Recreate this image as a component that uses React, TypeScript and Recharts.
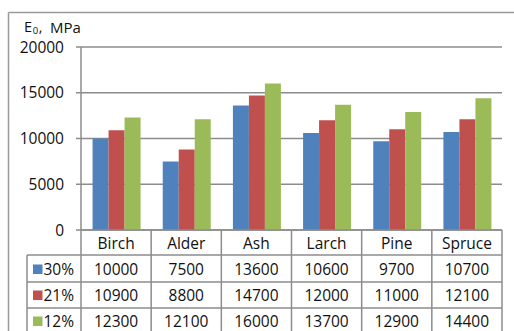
import React from "react";
import { BarChart, Bar, XAxis, YAxis, CartesianGrid, Customized } from "recharts";

const categories = ["Birch", "Alder", "Ash", "Larch", "Pine", "Spruce"];
const series30 = [10000, 7500, 13600, 10600, 9700, 10700];
const series21 = [10900, 8800, 14700, 12000, 11000, 12100];
const series12 = [12300, 12100, 16000, 13700, 12900, 14400];
const seriesNames = ["30%", "21%", "12%"];
const yTicks = [0, 5000, 10000, 15000, 20000];

const COLORS = ["#4F81BD", "#C0504D", "#9BBB59"];
const GRID = "#8c8c8c";
const FONT = "'Open Sans', sans-serif";
const FS = 15.5;

const W = 514;
const H = 331;
const MARGIN = { top: 47, right: 12, left: 0, bottom: 0 };
const Y_W = 81;
const X_H = 101;
const BAND = (W - MARGIN.left - MARGIN.right - Y_W) / categories.length;
const ROW_LINES = [25, 52, 78, 104];
const ROW_TEXT = [13, 39, 65, 91];
const LEG_X = 27;

const data = categories.map((c, i) => ({
  name: c,
  s30: series30[i],
  s21: series21[i],
  s12: series12[i],
}));

const seriesValues = [series30, series21, series12];

const TableTick = (props: any) => {
  const { x, y, payload, index } = props;
  const left = x - BAND / 2;
  const right = x + BAND / 2;
  const bottom = H + 5;
  const els: React.ReactNode[] = [];
  els.push(
    <line key="vr" x1={right} y1={y} x2={right} y2={bottom} stroke={GRID} strokeWidth={1.5} />
  );
  ROW_LINES.forEach((d, k) => {
    els.push(
      <line key={"h" + k} x1={left} y1={y + d} x2={right} y2={y + d} stroke={GRID} strokeWidth={1.5} />
    );
  });
  els.push(
    <text key="cat" x={x} y={y + ROW_TEXT[0]} textAnchor="middle" dominantBaseline="central"
      fontFamily={FONT} fontSize={FS} fill="#111">{payload.value}</text>
  );
  seriesValues.forEach((vals, k) => {
    els.push(
      <text key={"v" + k} x={x} y={y + ROW_TEXT[k + 1]} textAnchor="middle" dominantBaseline="central"
        fontFamily={FONT} fontSize={FS} fill="#111">{vals[index]}</text>
    );
  });
  if (index === 0) {
    els.push(
      <line key="vl" x1={left} y1={y} x2={left} y2={bottom} stroke={GRID} strokeWidth={1.5} />
    );
    els.push(
      <line key="vleg" x1={LEG_X} y1={y + ROW_LINES[0]} x2={LEG_X} y2={bottom} stroke={GRID} strokeWidth={1.5} />
    );
    ROW_LINES.forEach((d, k) => {
      els.push(
        <line key={"lh" + k} x1={LEG_X} y1={y + d} x2={left} y2={y + d} stroke={GRID} strokeWidth={1.5} />
      );
    });
    seriesNames.forEach((n, k) => {
      const cy = y + ROW_TEXT[k + 1];
      els.push(<rect key={"sq" + k} x={LEG_X + 6} y={cy - 4.5} width={9.5} height={9.5} fill={COLORS[k]} />);
      els.push(
        <text key={"ln" + k} x={LEG_X + 16.5} y={cy} dominantBaseline="central"
          fontFamily={FONT} fontSize={FS} fill="#111">{n}</text>
      );
    });
  }
  return <g>{els}</g>;
};

const Decor = () => (
  <g>
    <line x1={8.5} y1={12.5} x2={W} y2={12.5} stroke="#9a9a9a" strokeWidth={1.5} />
    <line x1={8.5} y1={12.5} x2={8.5} y2={H} stroke="#9a9a9a" strokeWidth={1.5} />
    <text x={24} y={26.5} dominantBaseline="central" fontFamily={FONT} fontSize={14.5} fill="#111">E</text>
    <text x={32.8} y={30} dominantBaseline="central" fontFamily={FONT} fontSize={9.5} fill="#111">0</text>
    <text x={38.8} y={26.5} dominantBaseline="central" fontFamily={FONT} fontSize={14.5} fill="#111">,</text>
    <text x={50} y={26.5} dominantBaseline="central" fontFamily={FONT} fontSize={15} fill="#111">MPa</text>
  </g>
);

export default function App() {
  return (
    <div style={{ position: "absolute", left: 0, top: 0, width: W, height: H, background: "#fff" }}>
      <BarChart width={W} height={H} data={data} margin={MARGIN} barCategoryGap="16.5%" barGap={0}>
        <CartesianGrid vertical={false} stroke={GRID} strokeWidth={1.5} />
        <YAxis
          width={Y_W}
          domain={[0, 20000]}
          ticks={yTicks}
          interval={0}
          axisLine={{ stroke: GRID, strokeWidth: 1.5 }}
          tickLine={{ stroke: GRID, strokeWidth: 1.5 }}
          tickSize={5}
          tickMargin={12}
          tick={{ fontFamily: FONT, fontSize: FS, fill: "#111" }}
        />
        <XAxis
          dataKey="name"
          height={X_H}
          interval={0}
          tickSize={0}
          tickMargin={0}
          tickLine={false}
          axisLine={{ stroke: GRID, strokeWidth: 1.5 }}
          tick={<TableTick />}
        />
        <Bar dataKey="s30" fill={COLORS[0]} isAnimationActive={false} />
        <Bar dataKey="s21" fill={COLORS[1]} isAnimationActive={false} />
        <Bar dataKey="s12" fill={COLORS[2]} isAnimationActive={false} />
        <Customized component={Decor} />
      </BarChart>
    </div>
  );
}
